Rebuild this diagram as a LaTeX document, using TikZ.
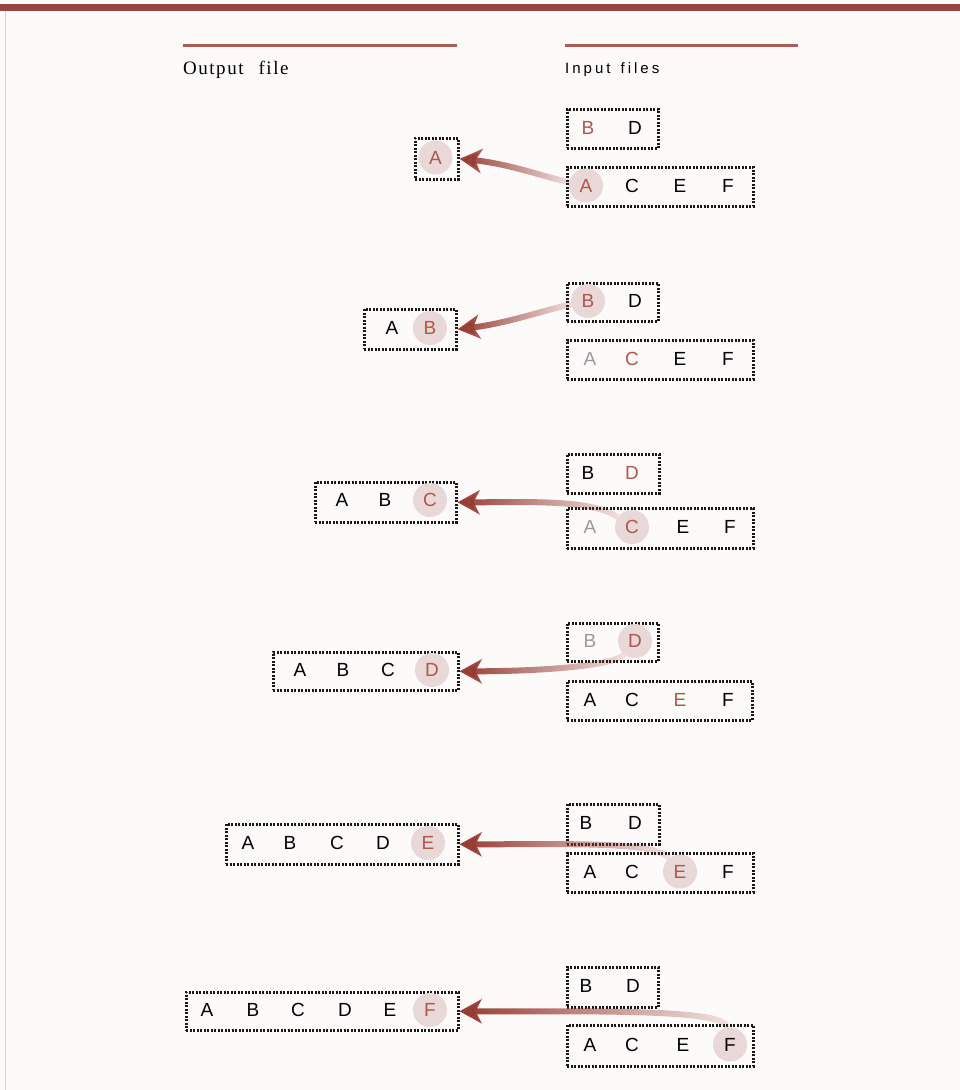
\documentclass[tikz,border=0pt]{standalone}
\usepackage{fontspec}
\setmainfont{Liberation Serif}
\setsansfont{Liberation Sans}
\newfontfamily\hdrserif[LetterSpace=8,WordSpace=2.4]{Liberation Serif}
\newfontfamily\hdrsans[LetterSpace=20,WordSpace=1.4]{Liberation Sans}
\usetikzlibrary{arrows.meta,fadings}
\definecolor{barred}{HTML}{9A4640}
\definecolor{rulered}{HTML}{A85D57}
\definecolor{arrowred}{HTML}{963A32}
\definecolor{letred}{HTML}{B0574C}
\definecolor{hlfill}{HTML}{E9D8D8}
\definecolor{graylet}{HTML}{9A9A9A}
\definecolor{bgcol}{HTML}{FDFAFA}
\tikzfading[name=tailfade, left color=transparent!0, right color=transparent!88]
\tikzset{
  filebox/.style={draw=black!90, line width=2.6pt, dash pattern=on 2pt off 1.5pt, inner sep=0pt, anchor=north west},
  ltr/.style={font=\sffamily\fontsize{19}{19}\selectfont, inner sep=0pt, text=black, anchor=center},
  ltrcur/.style={ltr, circle, fill=hlfill, minimum size=34pt, text=letred},
  ltrnext/.style={ltr, text=letred},
  ltrused/.style={ltr, text=graylet},
  conn/.style={line width=6pt, draw=arrowred, path fading=tailfade, -{Stealth[length=22pt,width=24pt,inset=6pt]}},
  hdrrule/.style={draw=rulered, line width=3pt},
}
\begin{document}
\begin{tikzpicture}[x=1pt,y=-1pt]
\useasboundingbox (0,0) rectangle (960,1090);
\fill[bgcol] (0,0) rectangle (960,1090);
\fill[barred] (0,4) rectangle (960,11);
\draw[gray!35, line width=0.8pt] (5,11) -- (5,1090);

% headers
\draw[hdrrule] (183,45) -- (457,45);
\draw[hdrrule] (565,45) -- (798,45);
\node[anchor=west, inner sep=0pt, font=\hdrserif\fontsize{19}{19}\selectfont] (hout) at (183,70) {Output file};
\node[anchor=west, inner sep=0pt, font=\hdrsans\fontsize{15}{15}\selectfont] (hin) at (565,70) {Input files};

% ---------- step 1
\node[filebox, minimum width=43pt, minimum height=41pt] (o1) at (414,137) {};
\node[ltrcur] (o1A) at (435.5,157.5) {A};
\node[filebox, minimum width=91pt, minimum height=39pt] (t1) at (566,108) {};
\node[ltrnext] (t1B) at (588,127.5) {B};
\node[ltr] (t1D) at (635,127.5) {D};
\node[filebox, minimum width=186pt, minimum height=39pt] (b1) at (566,166) {};
\node[ltrcur] (s1) at (586,185.5) {A};
\foreach \l/\x in {C/632,E/680,F/728} \node[ltr] (b1\l) at (\x,185.5) {\l};
\draw[conn] (s1) .. controls +(-40,-8) and +(50,5) .. (o1.east);

% ---------- step 2
\node[filebox, minimum width=92pt, minimum height=40pt] (o2) at (363,308) {};
\node[ltr] (o2A) at (392,328) {A};
\node[ltrcur] (o2B) at (430,328) {B};
\node[filebox, minimum width=91pt, minimum height=38pt] (t2) at (566,282) {};
\node[ltrcur] (s2) at (588,301) {B};
\node[ltr] (t2D) at (635,301) {D};
\node[filebox, minimum width=186pt, minimum height=39pt] (b2) at (566,339) {};
\node[ltrused] (b2A) at (590,358.5) {A};
\node[ltrnext] (b2C) at (632,358.5) {C};
\foreach \l/\x in {E/680,F/728} \node[ltr] (b2\l) at (\x,358.5) {\l};
\draw[conn] (s2) .. controls +(-40,8) and +(50,-6) .. (o2.east);

% ---------- step 3
\node[filebox, minimum width=141pt, minimum height=40pt] (o3) at (314,481) {};
\foreach \l/\x in {A/342,B/385} \node[ltr] (o3\l) at (\x,500) {\l};
\node[ltrcur] (o3C) at (430,500) {C};
\node[filebox, minimum width=92pt, minimum height=39pt] (t3) at (566,453) {};
\node[ltr] (t3B) at (588,472.5) {B};
\node[ltrnext] (t3D) at (632,472.5) {D};
\node[filebox, minimum width=186pt, minimum height=40pt] (b3) at (566,507) {};
\node[ltrused] (b3A) at (590,527) {A};
\node[ltrcur] (s3) at (632,527) {C};
\foreach \l/\x in {E/683,F/730} \node[ltr] (b3\l) at (\x,527) {\l};
\draw[conn] (s3) .. controls +(-40,-28) and +(70,0) .. (o3.east);

% ---------- step 4
\node[filebox, minimum width=185pt, minimum height=38pt] (o4) at (272,651) {};
\foreach \l/\x in {A/300,B/343,C/388} \node[ltr] (o4\l) at (\x,670) {\l};
\node[ltrcur] (o4D) at (432,670) {D};
\node[filebox, minimum width=91pt, minimum height=38pt] (t4) at (566,622) {};
\node[ltrused] (t4B) at (590,641) {B};
\node[ltrcur] (s4) at (635,641) {D};
\node[filebox, minimum width=185pt, minimum height=39pt] (b4) at (566,680) {};
\foreach \l/\x in {A/590,C/632,F/728} \node[ltr] (b4\l) at (\x,699.5) {\l};
\node[ltrnext] (b4E) at (680,699.5) {E};
\draw[conn] (s4) .. controls +(-20,25) and +(80,0) .. (o4.east);

% ---------- step 5
\node[filebox, minimum width=232pt, minimum height=40pt] (o5) at (225,823) {};
\foreach \l/\x in {A/248,B/290,C/337,D/383} \node[ltr] (o5\l) at (\x,843) {\l};
\node[ltrcur] (o5E) at (428,843) {E};
\node[filebox, minimum width=92pt, minimum height=40pt] (t5) at (566,803) {};
\foreach \l/\x in {B/586,D/635} \node[ltr] (t5\l) at (\x,823) {\l};
\node[filebox, minimum width=186pt, minimum height=39pt] (b5) at (566,852) {};
\foreach \l/\x in {A/590,C/632,F/728} \node[ltr] (b5\l) at (\x,871.5) {\l};
\node[ltrcur] (s5) at (680,871.5) {E};
\draw[conn] (s5) .. controls +(-25,-30) and +(120,0) .. (o5.east);

% ---------- step 6
\node[filebox, minimum width=272pt, minimum height=38pt] (o6) at (185,991) {};
\foreach \l/\x in {A/207,B/253,C/298,D/345,E/390} \node[ltr] (o6\l) at (\x,1010) {\l};
\node[ltrcur] (o6F) at (430,1010) {F};
\node[filebox, minimum width=91pt, minimum height=40pt] (t6) at (566,966) {};
\foreach \l/\x in {B/586,D/633} \node[ltr] (t6\l) at (\x,986) {\l};
\node[filebox, minimum width=186pt, minimum height=41pt] (b6) at (566,1024) {};
\foreach \l/\x in {A/590,C/632,E/683} \node[ltr] (b6\l) at (\x,1044.5) {\l};
\node[ltrcur, text=black] (s6) at (730,1044.5) {F};
\draw[conn] (s6) .. controls +(-5,-35) and +(150,0) .. (o6.east);
\end{tikzpicture}
\end{document}
